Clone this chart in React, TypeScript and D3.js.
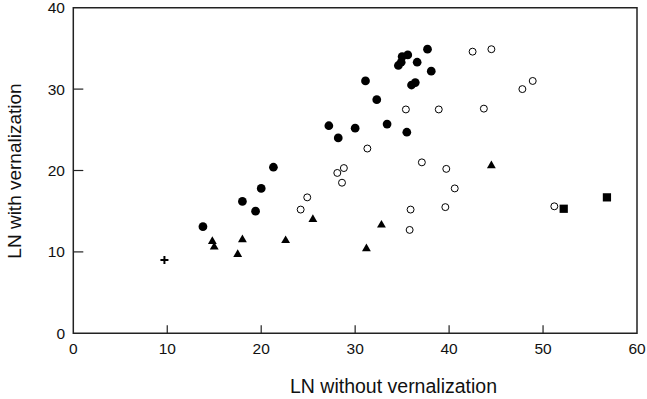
import * as d3 from "d3";

// LN with vs without vernalization
const filledX = [13.8, 18.0, 19.4, 20.0, 21.3, 27.2, 28.2, 30.0, 31.1, 32.3, 33.4, 35.5, 34.6, 34.9, 35.0, 35.6, 36.6, 37.7, 38.1, 36.0, 36.4];
const filledY = [13.1, 16.2, 15.0, 17.8, 20.4, 25.5, 24.0, 25.2, 31.0, 28.7, 25.7, 24.7, 32.9, 33.3, 34.0, 34.2, 33.3, 34.9, 32.2, 30.5, 30.8];

const openX = [24.2, 24.9, 28.1, 28.8, 28.6, 31.3, 35.4, 38.9, 35.9, 35.8, 37.1, 39.7, 40.6, 39.6, 42.5, 44.5, 43.7, 47.8, 48.9, 51.2];
const openY = [15.2, 16.7, 19.7, 20.3, 18.5, 22.7, 27.5, 27.5, 15.2, 12.7, 21.0, 20.2, 17.8, 15.5, 34.6, 34.9, 27.6, 30.0, 31.0, 15.6];

const triX = [14.8, 15.0, 17.5, 18.0, 22.6, 25.5, 31.2, 32.8, 44.5];
const triY = [11.3, 10.6, 9.7, 11.5, 11.4, 14.0, 10.4, 13.3, 20.6];

const squareX = [52.2, 56.8];
const squareY = [15.3, 16.7];

const plusX = [9.7];
const plusY = [9.0];

const xTicks = [0, 10, 20, 30, 40, 50, 60];
const yTicks = [0, 10, 20, 30, 40];

const width = 647;
const height = 399;
const margin = { top: 7.7, right: 10, bottom: 65.7, left: 73.3 };
const font = "'Liberation Sans', Arial, sans-serif";

export default function App() {
  const x = d3.scaleLinear().domain([0, 60]).range([margin.left, width - margin.right]);
  const y = d3.scaleLinear().domain([0, 40]).range([height - margin.bottom, margin.top]);

  const circle = d3.symbol(d3.symbolCircle, 60)()!;
  const openCircle = d3.symbol(d3.symbolCircle, 38)()!;
  const tri = d3.symbol(d3.symbolTriangle, 34)()!;
  const square = d3.symbol(d3.symbolSquare, 68)()!;

  const x0 = x(0), x1 = x(60), y0 = y(0), y1 = y(40);
  const axisColor = "#222";

  return (
    <svg width={width} height={height} style={{ position: "absolute", left: 0, top: 0, background: "#fff" }}>
      {/* frame */}
      <path d={`M${x0},${y1}H${x1}V${y0}H${x0}Z`} fill="none" stroke={axisColor} strokeWidth={1.5} />
      {xTicks.map((t) => (
        <g key={"x" + t}>
          {t > 0 && t < 60 && <line x1={x(t)} x2={x(t)} y1={y0} y2={y0 - 8} stroke={axisColor} strokeWidth={1.2} />}
          <text x={x(t)} y={354} textAnchor="middle" fontFamily={font} fontSize={15.5} fill="#111">{t}</text>
        </g>
      ))}
      {yTicks.map((t) => (
        <g key={"y" + t}>
          {t > 0 && t < 40 && <line x1={x0} x2={x0 + 10} y1={y(t)} y2={y(t)} stroke={axisColor} strokeWidth={1.2} />}
          <text x={65} y={y(t)} dy="0.36em" textAnchor="end" fontFamily={font} fontSize={15.5} fill="#111">{t}</text>
        </g>
      ))}
      <text x={393.5} y={393} textAnchor="middle" fontFamily={font} fontSize={19.5} fill="#111">LN without vernalization</text>
      <text transform={`translate(20.5,171) rotate(-90)`} textAnchor="middle" fontFamily={font} fontSize={19} fill="#111">LN with vernalization</text>

      {filledX.map((v, i) => (
        <path key={"f" + i} d={circle} transform={`translate(${x(v)},${y(filledY[i])})`} fill="#000" />
      ))}
      {openX.map((v, i) => (
        <path key={"o" + i} d={openCircle} transform={`translate(${x(v)},${y(openY[i])})`} fill="#fff" stroke="#000" strokeWidth={1} />
      ))}
      {triX.map((v, i) => (
        <path key={"t" + i} d={tri} transform={`translate(${x(v)},${y(triY[i])})`} fill="#000" />
      ))}
      {squareX.map((v, i) => (
        <path key={"s" + i} d={square} transform={`translate(${x(v)},${y(squareY[i])})`} fill="#000" />
      ))}
      {plusX.map((v, i) => (
        <path key={"p" + i} d="M-4,0H4M0,-4V4" transform={`translate(${x(v)},${y(plusY[i])})`} stroke="#000" strokeWidth={2} fill="none" />
      ))}
    </svg>
  );
}
